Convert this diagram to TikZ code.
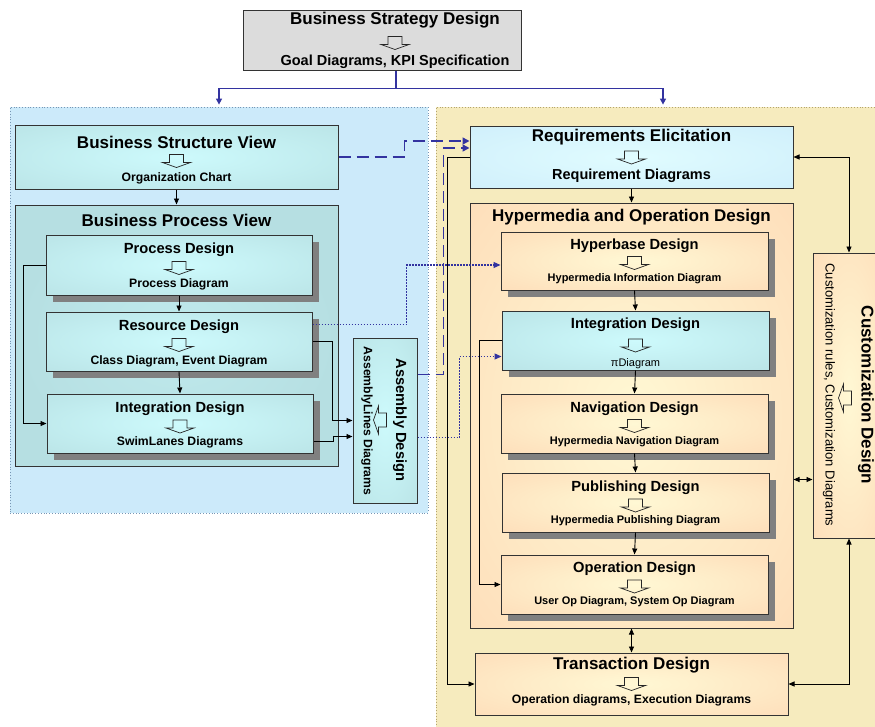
\documentclass[tikz,border=0pt]{standalone}
\usepackage{fontspec}
\setmainfont{Liberation Sans}
\usetikzlibrary{arrows.meta}
\usetikzlibrary{calc}
\usetikzlibrary{fit}
\usetikzlibrary{positioning}
\usetikzlibrary{shadows}

\definecolor{linkblue}{RGB}{51,51,160}
\definecolor{stratgray}{RGB}{220,220,220}
\definecolor{tealout}{RGB}{182,223,226}
\definecolor{tealin}{RGB}{205,250,252}
\definecolor{reqout}{RGB}{204,236,250}
\definecolor{reqin}{RGB}{224,252,255}
\definecolor{peachout}{RGB}{253,216,180}
\definecolor{peachin}{RGB}{255,248,212}
\definecolor{lpfill}{RGB}{204,234,250}
\definecolor{lpborder}{RGB}{120,150,180}
\definecolor{rpfill}{RGB}{246,235,190}
\definecolor{rpborder}{RGB}{180,165,110}
\definecolor{shadowgray}{RGB}{128,128,128}

\pgfdeclareradialshading{tealglow}{\pgfpoint{0bp}{0bp}}{color(0bp)=(tealin); color(45bp)=(tealout); color(72bp)=(tealout)}
\pgfdeclareradialshading{reqglow}{\pgfpoint{0bp}{0bp}}{color(0bp)=(reqin); color(45bp)=(reqout); color(72bp)=(reqout)}
\pgfdeclareradialshading{peachglow}{\pgfpoint{0bp}{0bp}}{color(0bp)=(peachin); color(45bp)=(peachout); color(72bp)=(peachout)}

\newcommand\bigfont{\fontsize{17}{19}\selectfont}
\newcommand\goalfont{\fontsize{14.5}{16}\selectfont}
\newcommand\midfont{\fontsize{14.7}{16}\selectfont}
\newcommand\subfont{\fontsize{12.2}{14}\selectfont}
\newcommand\smallfont{\fontsize{11}{13}\selectfont}
\newcommand\custfont{\mdseries\fontsize{13}{15}\selectfont}

% box, title, hollow arrow, subtitle
\newcommand\designbox[8]{%
  \node[#2, fit={#3 #4}] (#1) {};
  \node[boxtext] (#1-title) at ([yshift=#5pt]#1.center) {#6};
  \node[boxtext] (#1-sub) at ([yshift=#7pt]#1.center) {#8};
  \pic at ($(#1-title)!0.5!(#1-sub)+(0,1)$) {hollowarrow};
}

\tikzset{
  box/.style={draw=black!80, line width=1pt, inner sep=0pt},
  stratbox/.style={box, fill=stratgray},
  tealbox/.style={box, shading=tealglow},
  tealflat/.style={box, inner color=tealin!40!tealout, outer color=tealout},
  reqbox/.style={box, shading=reqglow},
  peachbox/.style={box, shading=peachglow},
  shadowed/.style={drop shadow={shadow xshift=7pt, shadow yshift=-7pt, opacity=1, fill=shadowgray}},
  leftpanel/.style={fill=lpfill, draw=lpborder, dotted, line width=0.8pt, inner sep=0pt},
  rightpanel/.style={fill=rpfill, draw=rpborder, dotted, line width=0.8pt, inner sep=0pt},
  boxtext/.style={inner sep=0pt, font=\bfseries, align=center},
  conn/.style={draw=black, line width=0.9pt, -{Triangle[length=6pt,width=5pt]}},
  dblconn/.style={draw=black, line width=0.9pt, {Triangle[length=6pt,width=5pt]}-{Triangle[length=6pt,width=5pt]}},
  blueline/.style={draw=linkblue, line width=1.4pt},
  bluearrow/.style={blueline, -{Triangle[length=6pt,width=6pt]}},
  dashlink/.style={draw=linkblue, line width=1.6pt, dash pattern=on 12pt off 6pt, -{Triangle[length=7pt,width=7pt]}},
  dotlink/.style={draw=linkblue, line width=1.2pt, dash pattern=on 1.5pt off 1.5pt, -{Triangle[length=7pt,width=6pt]}},
  hollowarrow/.pic={
    \draw[black!85, line width=0.7pt] (-7,-6.5) -- (-7,1.5) -- (-14,1.5) -- (0,6.5) -- (14,1.5) -- (7,1.5) -- (7,-6.5) -- cycle;
  },
}

\begin{document}
\begin{tikzpicture}[x=1pt, y=-1pt]
\useasboundingbox (0,0) rectangle (875,726);

% panels
\node[leftpanel, fit={(10,107) (428,513)}] (bpanel) {};
\node[rightpanel, fit={(436,107) (890,735)}] (wpanel) {};

% strategy
\node[stratbox, fit={(243,10) (521,70)}] (strat) {};
\node[boxtext] (strat-title) at ([xshift=13pt,yshift=20pt]strat.center) {\bigfont Business Strategy Design};
\pic at ([xshift=13pt,yshift=-3pt]strat.center) {hollowarrow};
\node[boxtext] (strat-sub) at ([xshift=13pt,yshift=-22pt]strat.center) {\goalfont Goal Diagrams, KPI Specification};

\draw[blueline] ([xshift=14pt]strat.south) -- ++(0,18) coordinate (split);
\draw[bluearrow] (split) -| ([yshift=2pt]bpanel.north);
\draw[bluearrow] (split) -| ([yshift=2pt]wpanel.north);

% business side
\designbox{bsv}{tealbox}{(15,125)}{(338,189)}{15}{\bigfont Business Structure View}{-21}{\subfont Organization Chart}
\node[tealflat, fit={(15,205) (338,466)}] (bpv) {};
\node[boxtext, below=9pt of bpv.north] (bpv-title) {\bigfont Business Process View};
\designbox{proc}{tealbox, shadowed}{(46,235)}{(312,295)}{15}{\midfont Process Design}{-19}{\subfont Process Diagram}
\designbox{res}{tealbox, shadowed}{(46,312)}{(312,371)}{14.5}{\midfont Resource Design}{-19.5}{\subfont Class Diagram, Event Diagram}
\designbox{intl}{tealbox, shadowed}{(47,394)}{(313,453)}{15}{\midfont Integration Design}{-19}{\subfont SwimLanes Diagrams}

\node[tealbox, fit={(353,338) (417,503)}] (asm) {};
\node[boxtext, rotate=-90] (asm-title) at (400,420) {\midfont Assembly Design};
\node[boxtext, rotate=-90] (asm-sub) at (367,421) {\subfont AssemblyLines Diagrams};
\pic[rotate=-90] at (380,420) {hollowarrow};

% web side
\designbox{req}{reqbox}{(470,126)}{(793,188)}{19.5}{\bigfont Requirements Elicitation}{-18.5}{\goalfont Requirement Diagrams}
\node[peachbox, fit={(470,203) (793,628)}] (hyp) {};
\node[boxtext, below=6pt of hyp.north] (hyp-title) {\bigfont Hypermedia and Operation Design};
\designbox{hyb}{peachbox, shadowed}{(501,232)}{(768,290)}{15.5}{\midfont Hyperbase Design}{-17.5}{\smallfont Hypermedia Information Diagram}
\designbox{intr}{tealbox, shadowed}{(502,311)}{(769,370)}{15.5}{\midfont Integration Design}{-23.5}{\smallfont\mdseries πDiagram}
\designbox{nav}{peachbox, shadowed}{(501,394)}{(768,453)}{15}{\midfont Navigation Design}{-18}{\smallfont Hypermedia Navigation Diagram}
\designbox{pub}{peachbox, shadowed}{(502,473)}{(769,532)}{14.5}{\midfont Publishing Design}{-18.5}{\smallfont Hypermedia Publishing Diagram}
\designbox{op}{peachbox, shadowed}{(501,555)}{(768,614)}{15.5}{\midfont Operation Design}{-17.5}{\smallfont User Op Diagram, System Op Diagram}
\designbox{trans}{peachbox}{(475,653)}{(788,715)}{18.5}{\bigfont Transaction Design}{-16.5}{\subfont Operation diagrams, Execution Diagrams}

\node[peachbox, fit={(813,253) (885,538)}] (cust) {};
\node[boxtext, rotate=-90] (cust-title) at (866,395) {\bigfont Customization Design};
\node[boxtext, rotate=-90] (cust-sub) at (829,395) {\custfont Customization rules, Customization Diagrams};
\pic[rotate=-90] at (845,398) {hollowarrow};

% connectors
\draw[conn] (bsv.south) -- (bpv.north);
\draw[conn] (proc.south) -- (res.north);
\draw[conn] (res.south) -- (intl.north);
\draw[conn] (proc.west) -- ++(-22,0) |- (intl.west);
\draw[conn] (res.east) -- ++(20,0) |- (asm.west);
\draw[conn] ([yshift=-18pt]intl.east) -- ++(20,0) |- ([yshift=-16pt]asm.west);

\draw[conn] (req.south) -- (hyp.north);
\draw[conn] (hyb.south) -- (intr.north);
\draw[conn] (intr.south) -- (nav.north);
\draw[conn] (nav.south) -- (pub.north);
\draw[conn] (pub.south) -- (op.north);
\draw[conn] (intr.west) -- ++(-22,0) |- (op.west);
\draw[conn] (req.west) -- ++(-22,0) |- (trans.west);
\draw[dblconn] (hyp.south) -- (trans.north);
\draw[dblconn] (req.east) -| (cust.north);
\draw[dblconn] (cust.south) |- (trans.east);
\path ([yshift=-64pt]hyp.east) coordinate (hyp-c);
\draw[dblconn] (hyp-c) -- (hyp-c -| cust.west);

% cross links
\draw[dashlink] (bsv.east) -- ++(66,0) |- ([yshift=16pt]req.west);
\draw[dashlink] ([yshift=46pt]asm.east) -- ++(26,0) |- ([yshift=9pt]req.west);
\draw[dotlink] ([yshift=17pt]res.east) -- ++(94,0) |- ([yshift=-4pt]hyb.west);
\draw[dotlink] ([yshift=-17pt]asm.east) -- ++(42,0) |- ([yshift=-16pt]intr.west);

\end{tikzpicture}
\end{document}
